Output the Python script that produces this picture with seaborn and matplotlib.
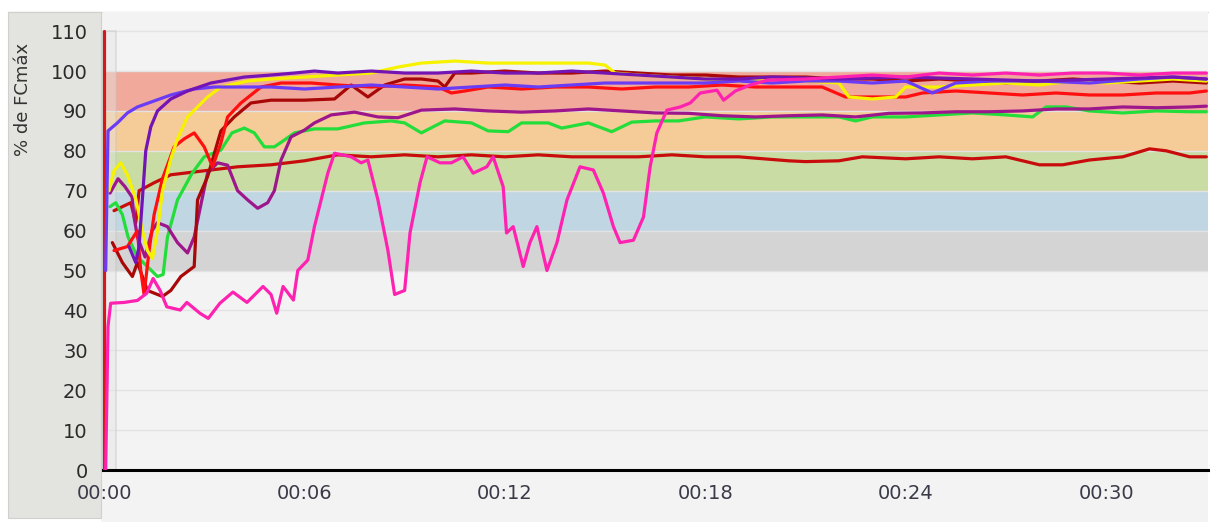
import matplotlib
matplotlib.use('Agg')
import matplotlib.pyplot as plt
import seaborn as sns
import pandas as pd
from matplotlib.patches import Rectangle
from matplotlib.ticker import FuncFormatter

#%% Data (minutes, % of max heart rate)
zone_low = [50, 60, 70, 80, 90]
zone_high = [60, 70, 80, 90, 100]
zone_colors = ['#d4d4d4', '#c0d6e2', '#c8dca4', '#f5cb97', '#f0a99a']

start_t = [0, 0]
start_v = [0, 110]

blue_t = [0.05, 0.12, 0.4, 0.7, 1.0, 1.5, 2.0, 2.7, 3.3, 4.0, 5.0, 6.0, 7.0, 8.0, 9.0, 10.0, 11.0, 12.0,
          13.0, 14.0, 15.0, 16.0, 17.0, 18.0, 19.0, 20.0, 21.0, 22.0, 23.0, 24.0, 24.8, 25.5, 26.5, 28.0,
          29.5, 31.0, 32.0, 33.0]
blue_v = [50, 85, 87, 89.5, 91, 92.5, 94, 95.5, 96, 96, 96, 95.5, 96, 96.5, 96, 95.5, 96, 96.5,
          96, 96.5, 97, 97, 97, 97, 97.5, 97, 97.5, 97.5, 97, 97.5, 94.5, 97, 97.5, 97.5,
          97, 98, 98.5, 98]

purple_t = [0.75, 0.95, 1.05, 1.15, 1.25, 1.4, 1.6, 2.0, 2.5, 3.2, 4.2, 5.0, 5.7, 6.3, 7, 8, 9, 10, 11,
            12, 13, 14, 15, 16, 17, 18, 19, 20, 22, 24, 26, 28, 30, 32, 33]
purple_v = [56, 52, 56, 68, 80, 86, 90, 93, 95, 97, 98.5, 99, 99.5, 100, 99.5, 100, 99.5, 99.5, 100,
            99.5, 99.5, 100, 99.5, 99, 98.5, 98, 98, 98.5, 98, 98.5, 98, 97.5, 98, 98.5, 98]

yellow_t = [0.15, 0.3, 0.5, 0.7, 0.95, 1.15, 1.3, 1.45, 1.6, 1.75, 2.0, 2.2, 2.5, 2.8, 3.1, 3.5, 4.3,
            5.0, 6.0, 7.0, 8.0, 8.8, 9.5, 10.5, 11.5, 12.5, 13.5, 14.5, 15.0, 15.3, 16, 17, 18, 19, 20,
            21, 22, 22.3, 23.0, 23.7, 24, 25, 26, 27, 28, 29, 30, 31, 32, 33]
yellow_v = [70, 75, 77, 74, 68, 60, 55, 53, 60, 70, 78, 83, 88.5, 91, 93.5, 96, 97.5,
            98, 98.5, 99, 99.5, 101, 102, 102.5, 102, 102, 102, 102, 101.5, 99.5, 99, 98.5, 98, 97.5, 98,
            97.5, 97, 93.5, 93, 93.5, 96, 96, 96.5, 97, 96.5, 97.5, 97, 97.5, 98, 97.5]

red_t = [0.3, 0.7, 1.0, 1.1, 1.2, 1.35, 1.5, 1.75, 2.1, 2.4, 2.7, 3.0, 3.25, 3.5, 3.7, 4.1, 4.7, 5.3,
         6.2, 7, 8, 9, 10, 10.4, 10.8, 11.5, 12.5, 13.5, 14.5, 15.5, 16.5, 17.5, 18.5, 19.5, 20.5, 21.5,
         22.2, 23, 24, 24.5, 25.5, 26.5, 27.5, 28.5, 29.5, 30.5, 31.5, 32.5, 33]
red_v = [55, 56, 60, 50, 44, 55, 64, 73, 81, 83, 84.5, 81, 76, 82, 88.5, 92, 96, 97,
         97, 96.5, 96, 96.5, 96, 94.5, 95, 96, 95.5, 96, 96, 95.5, 96, 96, 96.5, 96, 96, 96,
         93.5, 93.5, 93.5, 94.5, 95, 94.5, 94, 94.5, 94, 94, 94.5, 94.5, 95]

darkred_t = [0.25, 0.55, 0.85, 1.0, 1.3, 1.75, 2.0, 2.3, 2.7, 2.8, 3.1, 3.5, 3.9, 4.4, 5.0, 6.0, 6.9,
             7.4, 7.9, 8.4, 9.0, 9.5, 10.0, 10.2, 10.5, 11, 12, 13, 14, 15, 16, 17, 18, 19, 20, 21, 22,
             23, 24, 25, 26, 27, 28, 29, 30, 31, 32, 33]
darkred_v = [57, 52, 48.5, 52, 45, 43.5, 45, 48.5, 51, 67.7, 73.5, 85, 88.5, 92, 92.7, 92.7, 93,
             96.5, 93.5, 96.5, 98, 98, 97.5, 96, 99.5, 99.5, 100, 99.5, 99.5, 100, 99.5, 99, 99, 98.5, 98.5, 98.5, 98,
             98, 97.5, 98, 97.5, 97, 97.5, 98, 97.5, 97, 97.5, 97]

flat_t = [0.3, 0.8, 0.95, 1.05, 1.5, 2.0, 3.0, 4.0, 5.0, 6.0, 7.0, 8.0, 9.0, 10.0, 11, 12, 13, 14, 15,
          16, 17, 18, 19, 20.5, 21, 22, 22.7, 24, 25, 26, 27, 28, 28.7, 29.5, 30.5, 31.3, 31.8, 32.5, 33]
flat_v = [65, 67, 62, 70, 72, 74, 75, 76, 76.5, 77.5, 79, 78.5, 79, 78.5, 79, 78.5, 79, 78.5, 78.5,
          78.5, 79, 78.5, 78.5, 77.5, 77.3, 77.5, 78.5, 78, 78.5, 78, 78.5, 76.5, 76.5, 77.7, 78.5, 80.5, 80, 78.5, 78.5]

green_t = [0.18, 0.35, 0.55, 0.72, 1.0, 1.3, 1.6, 1.77, 1.9, 2.2, 2.63, 3.0, 3.5, 3.83, 4.2, 4.5, 4.8,
           5.1, 5.4, 5.7, 6.3, 7.0, 7.8, 8.6, 9.0, 9.5, 10.2, 11.0, 11.5, 12.1, 12.5, 13.3, 13.7, 14.5,
           15.2, 15.8, 16.5, 17.2, 18, 19, 20, 21, 22, 22.5, 23, 24, 25, 26, 27, 27.8, 28.2, 28.8, 29.5,
           30.5, 31.5, 32.5, 33]
green_v = [66, 67, 64, 58.4, 53.4, 51, 48.5, 49, 58.4, 67.7, 74.3, 78.5, 80.2, 84.5, 85.7, 84.5, 81,
           81, 82.7, 84.5, 85.5, 85.5, 87, 87.5, 87, 84.5, 87.5, 87, 85, 84.8, 87, 87, 85.7, 87,
           84.8, 87.2, 87.5, 87.5, 88.5, 88, 88.5, 88.5, 88.5, 87.5, 88.5, 88.5, 89, 89.5, 89, 88.5, 91, 91, 90,
           89.5, 90, 89.8, 89.8]

magenta_t = [0.18, 0.42, 0.63, 0.84, 0.9, 1.0, 1.23, 1.44, 1.6, 1.9, 2.2, 2.5, 2.7, 2.93, 3.1, 3.4, 3.7,
             4.0, 4.3, 4.6, 4.9, 5.1, 5.3, 5.6, 6.0, 6.3, 6.8, 7.5, 8.2, 8.8, 9.5, 10.5, 11.5, 12.5, 13.5,
             14.5, 15.5, 16.5, 17.5, 18.5, 19.5, 20.5, 21.5, 22.5, 23.5, 24.5, 25.5, 26.5, 27.5, 28.5,
             29.5, 30.5, 31.5, 32.5, 33]
magenta_v = [69.4, 73, 71, 68.4, 63.4, 58.4, 53.4, 60, 62, 61, 57, 54.4, 58.4, 67.7, 74.4, 77, 76.4,
             70, 67.7, 65.6, 67, 70, 77.7, 83.5, 85.2, 87, 89, 89.7, 88.5, 88.3, 90.2, 90.5, 90, 89.7, 90,
             90.5, 90, 89.5, 89.4, 88.8, 88.5, 88.8, 89, 88.5, 89.4, 89.5, 89.8, 89.8, 90, 90.5,
             90.5, 91, 90.8, 91, 91.2]

pink_t = [0.05, 0.12, 0.2, 0.6, 1.0, 1.28, 1.47, 1.68, 1.88, 2.28, 2.48, 2.87, 3.12, 3.47, 3.86, 4.28,
          4.76, 5.0, 5.17, 5.36, 5.67, 5.8, 6.1, 6.3, 6.7, 6.9, 7.4, 7.7, 7.9, 8.2, 8.5, 8.7, 9.0, 9.16,
          9.46, 9.67, 10.06, 10.4, 10.75, 11.05, 11.46, 11.65, 11.95, 12.05, 12.25, 12.55, 12.75, 12.96,
          13.26, 13.56, 13.86, 14.25, 14.65, 14.95, 15.25, 15.45, 15.85, 16.15, 16.35, 16.55, 16.85,
          17.25, 17.55, 17.85, 18.35, 18.55, 18.9, 19.35, 19.85, 21, 22, 23, 24, 25, 26, 27, 28, 29, 30,
          31, 32, 33]
pink_v = [0, 36, 41.8, 42, 42.5, 44.3, 48, 45, 40.9, 40.1, 42, 39.3, 38, 41.8, 44.6, 42,
          46, 44, 39.3, 46, 42.6, 50, 52.6, 61, 74.4, 79.4, 78.5, 77, 77.7, 67.7, 55, 44, 45, 59.4,
          72, 78.5, 77, 77, 78.5, 74.4, 76, 78.5, 71, 59.4, 61, 51, 57, 61,
          50, 57, 67.7, 76, 75.2, 69.4, 61, 57, 57.6, 63.4, 76, 84.5, 90.2,
          91, 92, 94.5, 95.2, 92.7, 95, 96.5, 97.7, 98, 98.5, 99, 98.5, 99.5, 99, 99.5, 99, 99.5, 99.5,
          99, 99.5, 99.5]

series = {
    'inicio': (start_t, start_v, '#d81818'),
    'flat': (flat_t, flat_v, '#c80c0c'),
    'green': (green_t, green_v, '#22dd3a'),
    'magenta': (magenta_t, magenta_v, '#9e168c'),
    'darkred': (darkred_t, darkred_v, '#a80808'),
    'red': (red_t, red_v, '#ff0f0f'),
    'yellow': (yellow_t, yellow_v, '#f6f200'),
    'blue': (blue_t, blue_v, '#6b3cf5'),
    'purple': (purple_t, purple_v, '#7414b4'),
    'pink': (pink_t, pink_v, '#ff22b0'),
}

frames = []
for name, (t, v, c) in series.items():
    frames.append(pd.DataFrame({'t': t, 'v': v, 'serie': name}))
df = pd.concat(frames, ignore_index=True)
palette = {name: c for name, (t, v, c) in series.items()}

#%% Plot
sns.set_style("white")
plt.rcParams['font.family'] = ['DejaVu Sans']

W, H = 1213, 522
fig = plt.figure(figsize=(W / 100, H / 100), dpi=100, facecolor='white')
# background panels of the app window (behind the axes)
fig.patches.append(Rectangle((101 / W, 0), 1107 / W, 510 / H, transform=fig.transFigure,
                             facecolor='#f3f3f3', edgecolor='none', zorder=-2))
fig.patches.append(Rectangle((8 / W, 4 / H), 93 / W, 506 / H, transform=fig.transFigure,
                             facecolor='#e3e3df', edgecolor='#d0d0cc', lw=0.8, zorder=-1))
fig.add_artist(plt.Line2D([8 / W, 1208 / W], [510 / H, 510 / H], color='#dcdcdc', lw=1, zorder=-1))

ax = fig.add_axes([103 / W, 52 / H, 1105 / W, 458 / H])
ax.set_facecolor('#f3f3f3')

for lo, hi, c in zip(zone_low, zone_high, zone_colors):
    ax.axhspan(lo, hi, color=c, lw=0, zorder=0.5)

ax.add_patch(Rectangle((0, 0), 0.36, 110, facecolor='#e4e4e4', alpha=0.45,
                       edgecolor='#c4c4c4', lw=1.2, zorder=0.6))

sns.lineplot(data=df, x='t', y='v', hue='serie', palette=palette, estimator=None, sort=False,
             legend=False, linewidth=2.3, ax=ax, zorder=3)

ax.set_xlim(-0.03, 33.05)
ax.set_ylim(0, 114.8)
ax.set_yticks(range(0, 111, 10))
ax.set_xticks(range(0, 31, 6))
ax.xaxis.set_major_formatter(FuncFormatter(lambda x, p: f"00:{int(x):02d}"))
ax.grid(axis='y', color='#e3e3e3', lw=1, zorder=0.2)
ax.set_axisbelow(True)

for s in ['top', 'right']:
    ax.spines[s].set_visible(False)
ax.spines['left'].set_color('#222222')
ax.spines['left'].set_linewidth(1)
ax.spines['left'].set_bounds(0, 110)
ax.spines['bottom'].set_color('black')
ax.spines['bottom'].set_linewidth(2.2)

ax.tick_params(axis='y', direction='out', length=9, width=1, color='#444444',
               labelsize=14, labelcolor='#2a2a2a', pad=2)
ax.tick_params(axis='x', direction='out', length=7, width=1.6, color='black',
               labelsize=14, labelcolor='#3a3a48', pad=3)

ax.set_xlabel('')
ax.set_ylabel('% de FCmáx', fontsize=13, color='#333333')
ax.yaxis.set_label_coords(-0.064, 0.81)

fig.savefig('out.png', dpi=100, facecolor=fig.get_facecolor())
